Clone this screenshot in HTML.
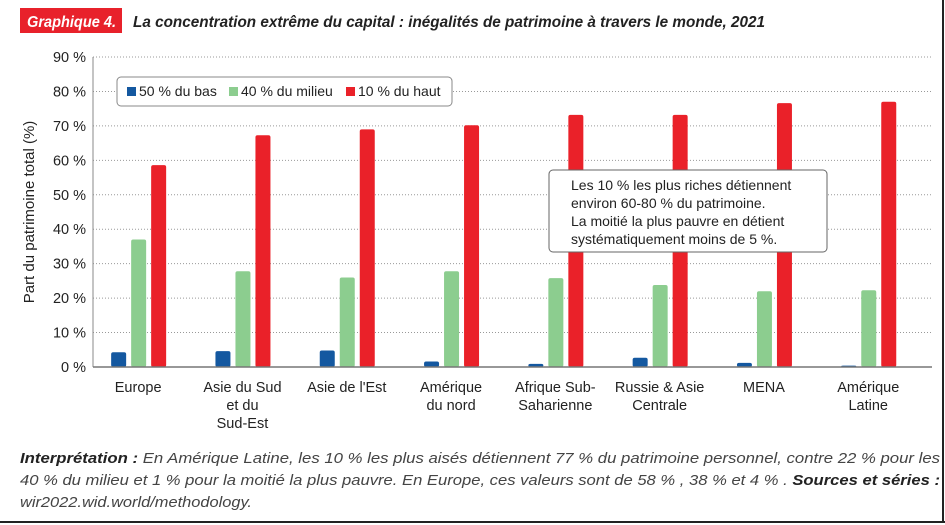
<!DOCTYPE html>
<html><head><meta charset="utf-8"><style>
body{margin:0;background:#fff;}
#wrap{position:relative;width:945px;height:525px;overflow:hidden;background:#fff;font-family:"Liberation Sans",sans-serif;}
</style></head><body>
<div id="wrap">
<svg id="chart" width="945" height="525" xmlns="http://www.w3.org/2000/svg">
<line x1="943" y1="0" x2="943" y2="523" stroke="#222" stroke-width="2"/>
<line x1="0" y1="522" x2="945" y2="522" stroke="#222" stroke-width="2"/>
<rect x="20" y="8" width="102" height="25" fill="#e8212b"/>
<text x="27" y="27" font-size="16" font-style="italic" font-weight="bold" fill="#fff" textLength="89" lengthAdjust="spacingAndGlyphs">Graphique 4.</text>
<text x="133" y="27" font-size="16" font-style="italic" font-weight="bold" fill="#222" textLength="632" lengthAdjust="spacingAndGlyphs">La concentration extrême du capital : inégalités de patrimoine à travers le monde, 2021</text>
<g id="grid"></g><g id="yticks"></g><g id="bars"></g><g id="xlabels"></g>
<line x1="93" y1="57" x2="93" y2="367" stroke="#888" stroke-width="1"/>
<line x1="93" y1="367" x2="932" y2="367" stroke="#777" stroke-width="1.5"/>
<text transform="translate(34,212) rotate(-90)" text-anchor="middle" font-size="15" fill="#222">Part du patrimoine total  (%)</text>
<g>
<rect x="117" y="77" width="335" height="29" rx="4" fill="#fff" stroke="#888"/>
<rect x="127" y="87" width="9" height="9" fill="#1458a0"/>
<text x="139" y="96" font-size="14" fill="#222">50 % du bas</text>
<rect x="229" y="87" width="9" height="9" fill="#8ccd8f"/>
<text x="241" y="96" font-size="14" fill="#222">40 % du milieu</text>
<rect x="346" y="87" width="9" height="9" fill="#ea2129"/>
<text x="358" y="96" font-size="14" fill="#222">10 % du haut</text>
</g>
<g>
<rect x="549" y="170" width="278" height="82" rx="4" fill="#fff" stroke="#666"/>
<text font-size="14" fill="#222">
<tspan x="571" y="190">Les 10 % les plus riches détiennent</tspan>
<tspan x="571" y="208">environ 60-80 % du patrimoine.</tspan>
<tspan x="571" y="226">La moitié la plus pauvre en détient</tspan>
<tspan x="571" y="244">systématiquement moins de 5 %.</tspan>
</text>
</g>
<g font-size="15" fill="#444" font-style="italic">
<text x="20" y="463" textLength="920" lengthAdjust="spacingAndGlyphs"><tspan font-weight="bold" font-style="italic" fill="#222">Interprétation :</tspan> En Amérique Latine, les 10 % les plus aisés détiennent 77 % du patrimoine personnel, contre 22 % pour les</text>
<text x="20" y="485" textLength="920" lengthAdjust="spacingAndGlyphs">40 % du milieu et 1 % pour la moitié la plus pauvre. En Europe, ces valeurs sont de 58 % , 38 % et 4 % . <tspan font-weight="bold" fill="#222">Sources et séries :</tspan></text>
<text x="20" y="507" textLength="232" lengthAdjust="spacingAndGlyphs">wir2022.wid.world/methodology.</text>
</g>
</svg>
</div>
<script>
const categories = [["Europe"],["Asie du Sud","et du","Sud-Est"],["Asie de l'Est"],["Amérique","du nord"],["Afrique Sub-","Saharienne"],["Russie & Asie","Centrale"],["MENA"],["Amérique","Latine"]];
const bottom50 = [4.3, 4.6, 4.8, 1.6, 0.9, 2.7, 1.2, 0.4];
const middle40 = [37, 27.8, 26, 27.8, 25.8, 23.8, 22, 22.3];
const top10 = [58.6, 67.3, 69, 70.2, 73.2, 73.2, 76.6, 77];
const yTicks = [0,10,20,30,40,50,60,70,80,90];

const NS = "http://www.w3.org/2000/svg";
const y0 = 367, yTop = 57, yMax = 90;
function yScale(v){ return y0 - v/yMax*(y0-yTop); }
const bandLeft = 86, bandW = 104.3;
function xCenter(i){ return bandLeft + bandW*(i+0.5); }
function mk(tag, attrs, parent){ const e=document.createElementNS(NS,tag); for(const k in attrs) e.setAttribute(k,attrs[k]); parent.appendChild(e); return e; }

const grid=document.getElementById('grid'), yt=document.getElementById('yticks');
yTicks.forEach(t=>{
  if(t>0){
    const l=mk('line',{x1:93,x2:932,y1:yScale(t),y2:yScale(t),stroke:'#999','stroke-width':1,'stroke-dasharray':'1,2'},grid);
    
    
  }
  const tx=mk('text',{x:86,y:yScale(t)+5,'text-anchor':'end','font-size':14.5,fill:'#222'},yt);
  tx.textContent=t+' %';
  
  
});

const bars=document.getElementById('bars');
const series=[[bottom50,'#1458a0',-27,'bottom50'],[middle40,'#8ccd8f',-7,'middle40'],[top10,'#ea2129',13,'top10']];
series.forEach(([vals,col,off,nm])=>{
  vals.forEach((v,i)=>{
    const r=mk('rect',{x:xCenter(i)+off,y:yScale(v),width:15,height:y0-yScale(v),rx:2,fill:col},bars);
    
    
  });
});

const xl=document.getElementById('xlabels');
categories.forEach((lines,i)=>{
  const t=mk('text',{x:xCenter(i),'text-anchor':'middle','font-size':14.5,fill:'#222'},xl);
  
  
  lines.forEach((s,j)=>{ const ts=mk('tspan',{x:xCenter(i),y:392+j*18},t); ts.textContent=s; });
});
</script>
</body></html>
